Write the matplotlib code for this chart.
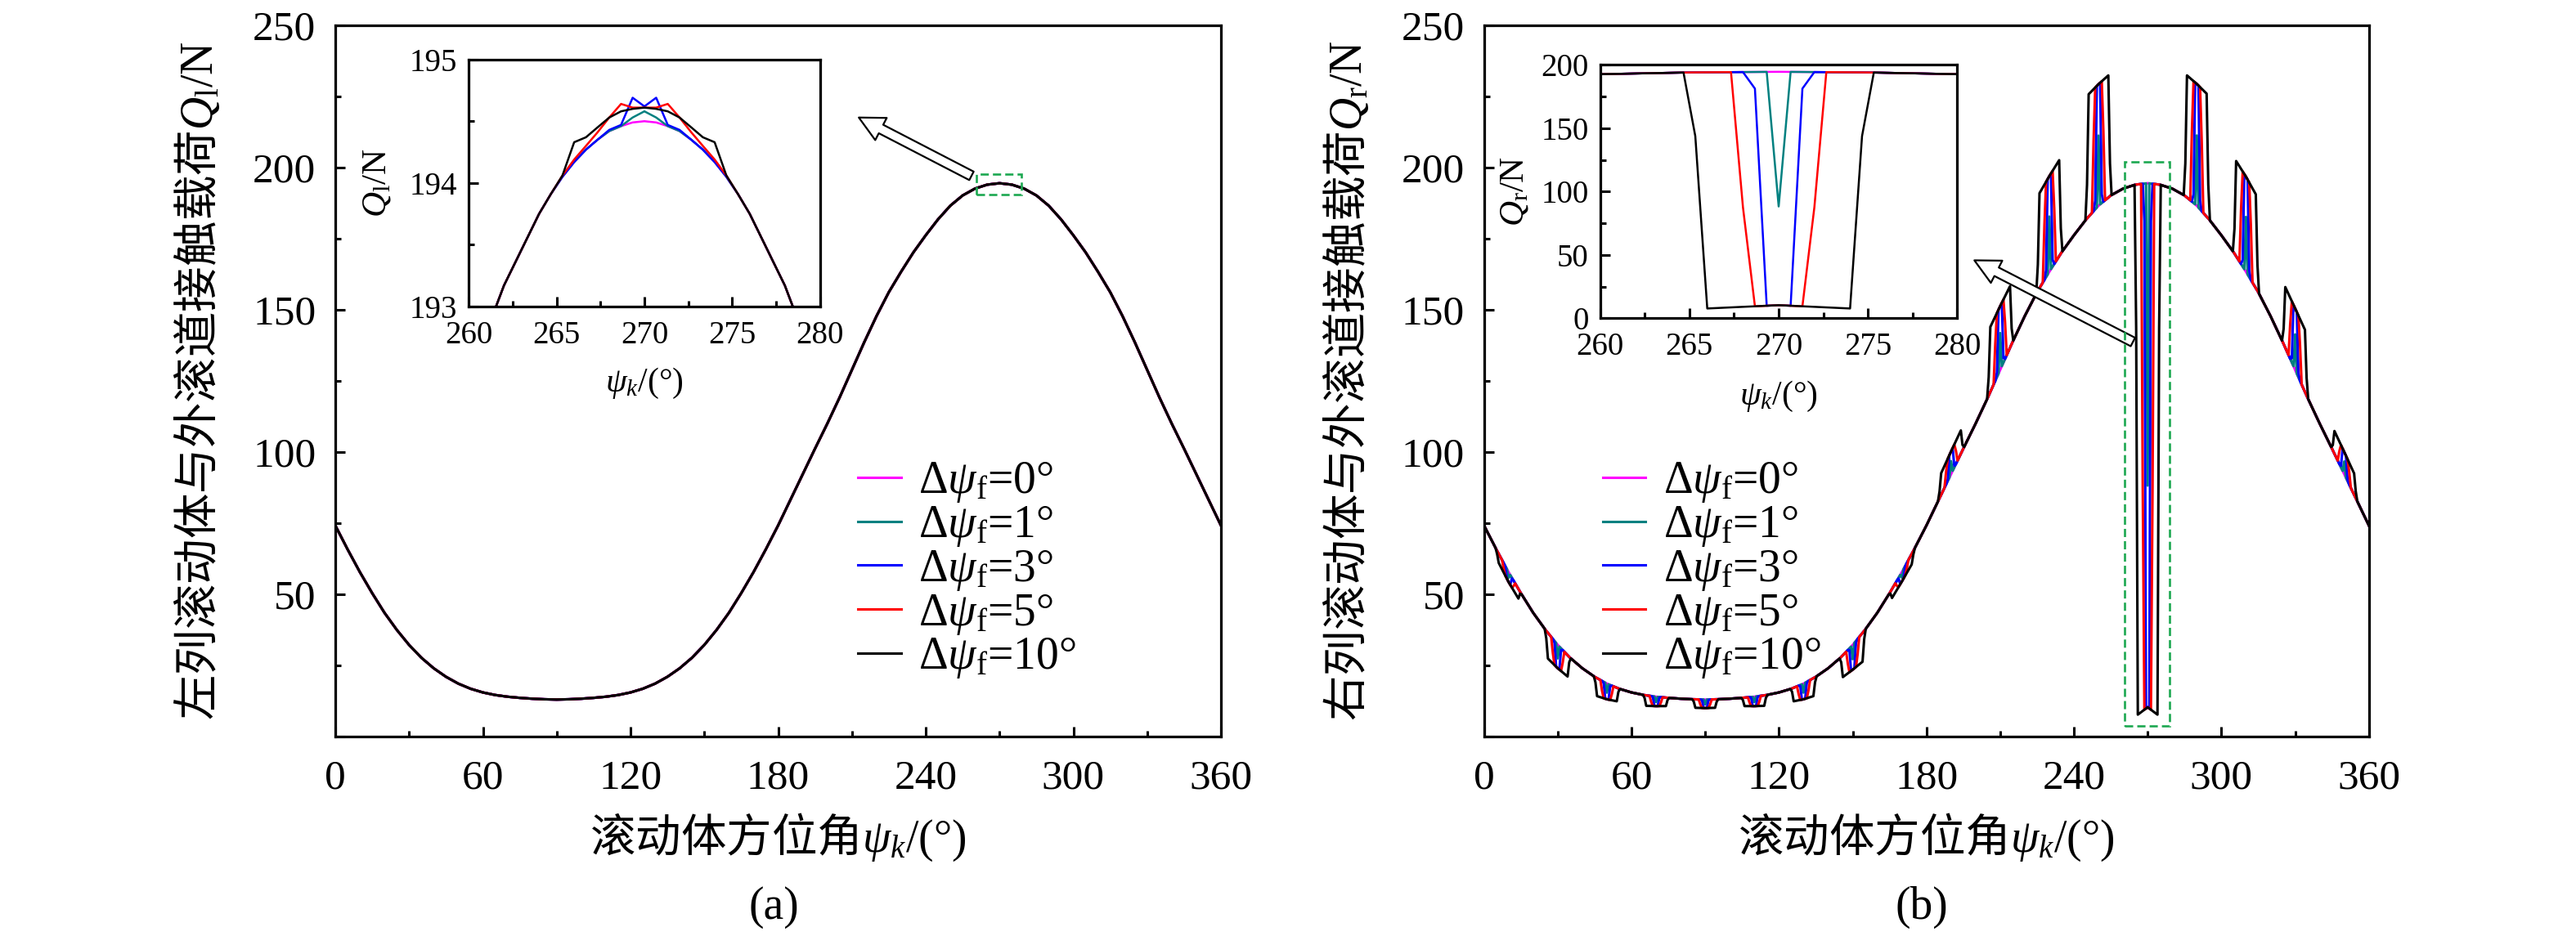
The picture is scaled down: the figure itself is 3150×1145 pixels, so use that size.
import numpy as np
import matplotlib
matplotlib.use('Agg')
import matplotlib.pyplot as plt
from matplotlib.patches import Rectangle
from matplotlib.ticker import MultipleLocator

plt.rcParams['font.family'] = ['Liberation Serif', 'Noto Sans CJK SC']
plt.rcParams['mathtext.fontset'] = 'custom'
plt.rcParams['mathtext.rm'] = 'Liberation Serif'
plt.rcParams['mathtext.it'] = 'Liberation Serif:italic'
plt.rcParams['mathtext.bf'] = 'Liberation Serif:bold'
plt.rcParams['mathtext.sf'] = 'Noto Sans CJK SC'   # used for the Chinese part of labels
plt.rcParams['axes.unicode_minus'] = False

# undisturbed contact load, read every 5 deg
psi = np.arange(0, 361, 5)
q_base = [74.2, 65.8, 57.8, 50.4, 43.5, 37.5, 32.2, 27.7, 24.0, 21.0,
          18.6, 16.8, 15.5, 14.6, 14.0, 13.6, 13.3, 13.1, 13.0, 13.1,
          13.3, 13.6, 14.0, 14.6, 15.5, 16.8, 18.6, 21.0, 24.0, 27.7,
          32.2, 37.5, 43.5, 50.4, 57.8, 65.8, 74.2, 83.2, 92.2, 101.2,
          110.0, 119.2, 128.9, 138.6, 147.8, 156.2, 163.4, 170.2, 176.2, 181.8,
          186.6, 190.2, 192.6, 194.0, 194.5, 194.0, 192.6, 190.2, 186.6, 181.8,
          176.2, 170.2, 163.4, 156.2, 147.8, 138.6, 128.9, 119.2, 110.0, 101.2,
          92.2, 83.2, 74.2]

# ball positions where right-row load jumps, and the jumped load (c-4, c, c+4)
centres = [10, 30, 50, 70, 90, 110, 130, 150, 170,
           190, 210, 230, 250, 270, 290, 310, 330, 350]
plat_l = [61.0, 27.4, 14.2, 10.8, 10.1, 10.7, 12.4, 20.9, 48.7,
          92.6, 144.0, 191.0, 225.8, 7.7, 232.4, 202.3, 158.0, 107.4]
plat_m = [54.3, 24.0, 13.1, 10.7, 10.0, 10.7, 13.1, 23.5, 54.5,
          100.2, 151.3, 197.0, 229.3, 10.3, 229.4, 196.8, 150.5, 100.0]
plat_r = [48.5, 21.1, 12.4, 10.7, 10.1, 10.8, 14.2, 26.3, 60.5,
          107.6, 158.3, 202.6, 232.4, 7.7, 226.0, 190.6, 143.0, 92.5]

labels = [r'$\Delta\psi_{\mathrm{f}}$=0°', r'$\Delta\psi_{\mathrm{f}}$=1°',
          r'$\Delta\psi_{\mathrm{f}}$=3°', r'$\Delta\psi_{\mathrm{f}}$=5°',
          r'$\Delta\psi_{\mathrm{f}}$=10°']
colors = ['#FF00FF', '#008080', '#0000FF', '#FF0000', '#000000']

win_edge = [0.0, 0.67, 2.0, 2.67, 5.33]
win_step = [0.0, 0.0, 1.33, 2.0, 4.67]
win_flat = [0.0, 0.0, 0.67, 1.33, 4.0]
step_frac = [0.0, 0.577, 0.071, 0.576, 0.27]

# zoomed left-row load near 270 deg
ins_psi = [258, 260, 262, 264, 264.67, 265.33, 266, 266.67, 267.33, 268, 268.67,
           269.33, 270, 270.67, 271.33, 272, 272.67, 273.33, 274, 274.67, 275.33,
           276, 278, 280, 282]
ins_q0 = [191.50, 192.42, 193.17, 193.75, 193.91, 194.05, 194.17, 194.27, 194.35, 194.42, 194.46,
          194.49, 194.50, 194.49, 194.46, 194.42, 194.35, 194.27, 194.17, 194.05, 193.91,
          193.75, 193.17, 192.42, 191.50]
ins_q1 = [191.50, 192.42, 193.17, 193.75, 193.91, 194.05, 194.17, 194.27, 194.35, 194.42, 194.46,
          194.53, 194.58, 194.53, 194.46, 194.42, 194.35, 194.27, 194.17, 194.05, 193.91,
          193.75, 193.17, 192.42, 191.50]
ins_q3 = [191.50, 192.42, 193.17, 193.75, 193.91, 194.05, 194.17, 194.27, 194.35, 194.43, 194.47,
          194.69, 194.62, 194.69, 194.47, 194.43, 194.35, 194.27, 194.17, 194.05, 193.91,
          193.75, 193.17, 192.42, 191.50]
ins_q5 = [191.50, 192.42, 193.17, 193.75, 193.91, 194.06, 194.19, 194.30, 194.41, 194.53, 194.64,
          194.61, 194.61, 194.61, 194.64, 194.53, 194.41, 194.30, 194.19, 194.06, 193.91,
          193.75, 193.17, 192.42, 191.50]
ins_q10 = [191.50, 192.42, 193.17, 193.75, 193.91, 194.06, 194.33, 194.37, 194.45, 194.53, 194.58,
           194.60, 194.61, 194.60, 194.58, 194.53, 194.45, 194.37, 194.33, 194.06, 193.91,
           193.75, 193.17, 192.42, 191.50]
ins_a = [ins_q0, ins_q1, ins_q3, ins_q5, ins_q10]


def right_row(k):
    e, s, f, fr = win_edge[k], win_step[k], win_flat[k], step_frac[k]
    if e == 0:
        return np.array(psi, float), np.array(q_base, float)
    pts = [(p, q) for p, q in zip(psi, q_base)
           if all(abs(p - c) >= e for c in centres)]
    for c, l, m, r in zip(centres, plat_l, plat_m, plat_r):
        base = lambda x: np.interp(x, psi, q_base)
        plat = lambda x: np.interp(x, [c - 4, c, c + 4], [l, m, r])
        pts.append((c - e, base(c - e)))
        pts.append((c + e, base(c + e)))
        if f == 0:
            pts.append((c, base(c) + fr * (m - base(c))))
        else:
            for x in (c - s, c + s):
                pts.append((x, base(x) + fr * (plat(x) - base(x))))
            for x in (c - f, c, c + f):
                pts.append((x, plat(x)))
    pts.sort()
    return np.array([p[0] for p in pts]), np.array([p[1] for p in pts])


W, H = 3150, 1145
fig = plt.figure(figsize=(W / 100, H / 100), dpi=100)
ax_a = fig.add_axes([410 / W, 1 - 901 / H, 1083 / W, 870 / H])
ax_b = fig.add_axes([1814.7 / W, 1 - 901 / H, 1082 / W, 870 / H])
in_a = fig.add_axes([573.3 / W, 1 - 375 / H, 429.4 / W, 302.3 / H])
in_b = fig.add_axes([1956.7 / W, 1 - 389.3 / H, 436.6 / W, 310 / H])

lw = 2.2
for k in range(5):
    ax_a.plot(psi, q_base, color=colors[k], lw=lw, label=labels[k])
    x, y = right_row(k)
    ax_b.plot(x, y, color=colors[k], lw=lw, label=labels[k])
    in_b.plot(x, y, color=colors[k], lw=1.8)
    in_a.plot(ins_psi, ins_a[k], color=colors[k], lw=1.8)


def style_main(ax, ylab):
    ax.set_xlim(0, 360)
    ax.set_ylim(0, 250)
    ax.set_xticks(range(0, 361, 60))
    ax.xaxis.set_minor_locator(MultipleLocator(30))
    ax.set_yticks(range(0, 251, 50))
    ax.set_yticklabels(['', '50', '100', '150', '200', '250'])
    ax.yaxis.set_minor_locator(MultipleLocator(25))
    ax.tick_params(which='both', direction='in', top=False, right=False, width=2.2, labelsize=37)
    ax.tick_params(which='major', length=8.6)
    ax.tick_params(which='minor', length=4.7)
    ax.tick_params(axis='x', pad=20)
    ax.tick_params(axis='y', pad=17)
    for sp in ax.spines.values():
        sp.set_linewidth(2.3)
    ax.set_xlabel(r'$\mathsf{滚动体方位角}\psi_k$/(°)', fontsize=40, va='center')
    ax.xaxis.set_label_coords(0.5, -0.1414)
    ax.set_ylabel(ylab, fontsize=40, va='center')
    ax.yaxis.set_label_coords(-0.1554, 0.5)


def style_inset(ax, ylim, major, minor, ylab, ylab_x):
    ax.set_xlim(260, 280)
    ax.set_ylim(*ylim)
    ax.set_xticks(range(260, 281, 5))
    ax.xaxis.set_minor_locator(MultipleLocator(2.5))
    ax.yaxis.set_major_locator(MultipleLocator(major))
    ax.yaxis.set_minor_locator(MultipleLocator(minor))
    ax.tick_params(which='both', direction='in', top=False, right=False, width=2.2, labelsize=28)
    ax.tick_params(which='major', length=8.6)
    ax.tick_params(which='minor', length=4.7)
    ax.tick_params(axis='x', pad=12)
    ax.tick_params(axis='y', pad=10)
    for sp in ax.spines.values():
        sp.set_linewidth(2.3)
    ax.set_xlabel(r'$\psi_k$/(°)', fontsize=30, va='center')
    ax.xaxis.set_label_coords(0.5, -0.31)
    ax.set_ylabel(ylab, fontsize=31, va='center')
    ax.yaxis.set_label_coords(ylab_x, 0.5)


style_main(ax_a, r'$\mathsf{左列滚动体与外滚道接触载荷}Q_{\mathrm{l}}$/N')
style_main(ax_b, r'$\mathsf{右列滚动体与外滚道接触载荷}Q_{\mathrm{r}}$/N')
style_inset(in_a, (193, 195), 1, 0.5, r'$Q_{\mathrm{l}}$/N', -0.26)
style_inset(in_b, (0, 200), 50, 25, r'$Q_{\mathrm{r}}$/N', -0.24)

for ax, xa in ((ax_a, 0.5899), (ax_b, 0.134)):
    ax.legend(loc='upper left', bbox_to_anchor=(xa, 0.388), frameon=False, fontsize=40,
              handlelength=0.95, handletextpad=0.38, labelspacing=-0.005,
              borderpad=0, borderaxespad=0)

green = '#1DA851'
ax_a.add_patch(Rectangle((260.6, 190.5), 18.3, 7.1, fill=False, ec=green, lw=1.9,
                         ls=(0, (3.8, 1.9)), zorder=5))
ax_b.add_patch(Rectangle((260.7, 3.6), 18.3, 198.4, fill=False, ec=green, lw=1.9,
                         ls=(0, (3.8, 1.9)), zorder=5))

arrow = dict(arrowstyle='simple,head_length=1.1,head_width=1.1,tail_width=0.42',
             fc='white', ec='black', lw=1.6, shrinkA=0, shrinkB=0, mutation_scale=20)
ax_a.annotate('', xy=(212.8, 217.6), xytext=(258.6, 197.1), arrowprops=arrow)
ax_b.annotate('', xy=(199.5, 167.4), xytext=(264.0, 138.7), arrowprops=arrow)

fig.text(946 / W, 1 - 1110 / H, '(a)', fontsize=40, ha='center', va='center')
fig.text(2350 / W, 1 - 1110 / H, '(b)', fontsize=40, ha='center', va='center')

fig.savefig('out.png', dpi=100)
